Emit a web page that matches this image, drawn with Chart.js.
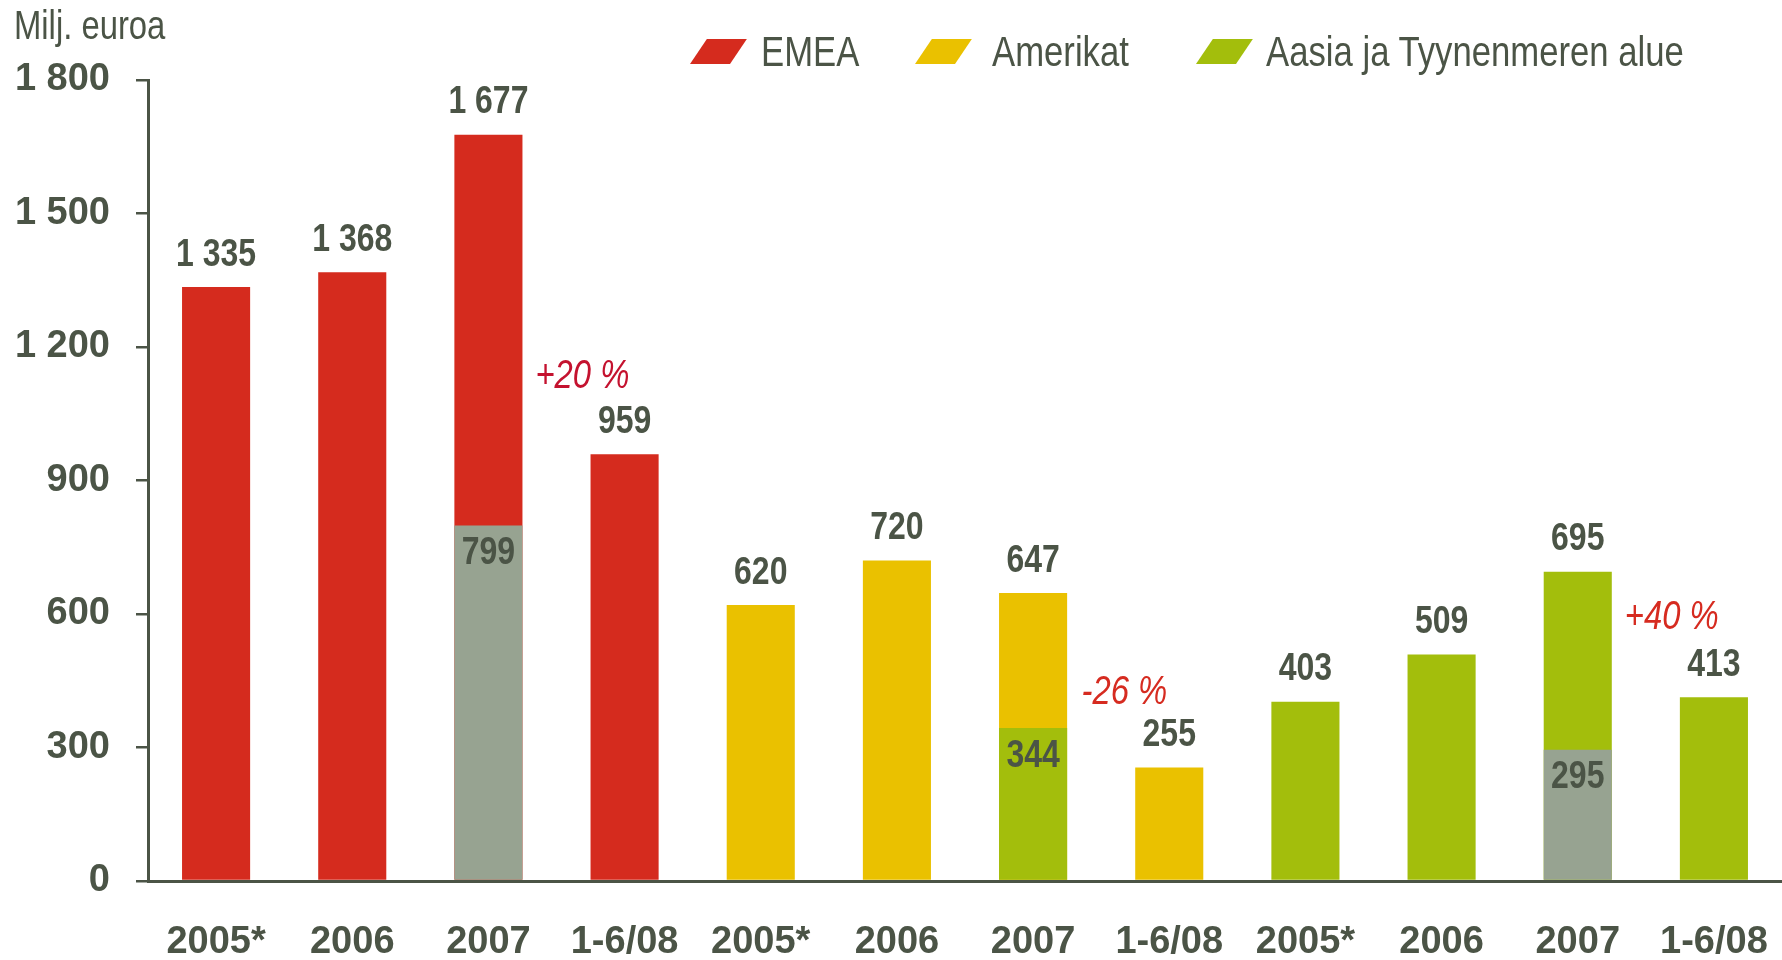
<!DOCTYPE html>
<html>
<head>
<meta charset="utf-8">
<script src="https://cdn.jsdelivr.net/npm/chart.js@4.4.1/dist/chart.umd.min.js"></script>
<style>
  html, body { margin: 0; padding: 0; background: #fff; }
  #wrap { position: relative; width: 1782px; height: 960px; overflow: hidden; }
  #chart { position: absolute; left: 0; top: 0; }
  .ytitle { position: absolute; left: 14px; top: 5px; font: 40px "Liberation Sans", Arial, sans-serif; line-height: 1; color: #4B5446; white-space: nowrap; transform: scaleX(0.82); transform-origin: 0 0; }
  .legend .sw { position: absolute; top: 39px; width: 40px; height: 25px; transform: skewX(-34deg); transform-origin: 0 100%; }
  .legend .lt { position: absolute; top: 31px; font: 42px "Liberation Sans", Arial, sans-serif; line-height: 1; color: #4B5446; white-space: nowrap; transform: scaleX(0.826); transform-origin: 0 0; }
</style>
</head>
<body>
<div id="wrap">
  <canvas id="chart" width="1782" height="960"></canvas>
  <div class="ytitle">Milj. euroa</div>
  <div class="legend" id="legend"></div>
</div>
<script>
const categories = ['2005*', '2006', '2007', '1-6/08', '2005*', '2006', '2007', '1-6/08', '2005*', '2006', '2007', '1-6/08'];
const totals = [1335, 1368, 1677, 959, 620, 720, 647, 255, 403, 509, 695, 413];
const comparable = [null, null, 799, null, null, null, 344, null, null, null, 295, null];
const regions = ['EMEA', 'Amerikat', 'Aasia ja Tyynenmeren alue'];
const yTickLabels = ['0', '300', '600', '900', '1 200', '1 500', '1 800'];
const changeLabels = ['+20 %', '-26 %', '+40 %'];
const changeX = [2.69, 6.67, 10.69];
const changeY = [1132, 422, 591];

const RED = '#D52B1E', YELLOW = '#EAC100', GREEN = '#A3BE0C', GRAY = '#97A391';
const TEXT = '#4B5446';
const regionColors = [RED, YELLOW, GREEN];
const baseColors = [GRAY, GRAY, GRAY, GRAY, GREEN, GREEN, GREEN, GREEN, GRAY, GRAY, GRAY, GRAY];
const changeColors = ['#C4122F', '#D62B20', '#D62B20'];
// legend placement (px): swatch left edge, text left edge
const legendSwatchX = [690, 915, 1196];
const legendTextX = [761, 992, 1266];

const FONT = '"Liberation Sans", Arial, sans-serif';
const SQUEEZE = 0.82;

function fmtNum(v) {
  if (v >= 1000) return Math.floor(v / 1000) + ' ' + String(v % 1000).padStart(3, '0');
  return String(v);
}

// legend in html
const legendEl = document.getElementById('legend');
regions.forEach((r, i) => {
  const sw = document.createElement('div');
  sw.className = 'sw';
  sw.style.left = legendSwatchX[i] + 'px';
  sw.style.background = regionColors[i];
  legendEl.appendChild(sw);
  const t = document.createElement('div');
  t.className = 'lt';
  t.style.left = legendTextX[i] + 'px';
  t.textContent = r;
  legendEl.appendChild(t);
});

function narrowText(ctx, text, x, y) {
  ctx.save();
  ctx.translate(x, y);
  ctx.scale(SQUEEZE, 1);
  ctx.fillText(text, 0, 0);
  ctx.restore();
}

const labelPlugin = {
  id: 'barLabels',
  afterDatasetsDraw(chart) {
    const ctx = chart.ctx;
    const totMeta = chart.getDatasetMeta(1);
    const baseMeta = chart.getDatasetMeta(0);
    ctx.save();
    ctx.textAlign = 'center';
    ctx.textBaseline = 'middle';
    ctx.fillStyle = TEXT;
    ctx.font = 'bold 39px ' + FONT;
    totMeta.data.forEach((bar, i) => {
      narrowText(ctx, fmtNum(totals[i]), bar.x, bar.y - 32);
    });
    baseMeta.data.forEach((bar, i) => {
      if (comparable[i] == null) return;
      narrowText(ctx, fmtNum(comparable[i]), bar.x, bar.y + 28);
    });
    ctx.font = 'italic 40px ' + FONT;
    changeLabels.forEach((t, i) => {
      ctx.fillStyle = changeColors[i];
      narrowText(ctx, t, chart.scales.x.getPixelForValue(changeX[i]), chart.scales.y.getPixelForValue(changeY[i]));
    });
    ctx.restore();
  }
};

new Chart(document.getElementById('chart'), {
  type: 'bar',
  data: {
    labels: categories,
    datasets: [
      {
        label: 'vertailukelpoinen',
        data: comparable,
        backgroundColor: baseColors,
        order: 0
      },
      {
        label: 'yhteensä',
        data: totals,
        backgroundColor: categories.map((c, i) => regionColors[Math.floor(i / 4)]),
        order: 1
      }
    ]
  },
  options: {
    responsive: false,
    animation: false,
    devicePixelRatio: 1,
    layout: { padding: { top: 80, left: 0, right: 0, bottom: 0 } },
    datasets: { bar: { grouped: false, barPercentage: 0.5, categoryPercentage: 1.0, borderWidth: 0 } },
    plugins: { legend: { display: false }, tooltip: { enabled: false } },
    scales: {
      x: {
        grid: { display: false, drawTicks: false },
        border: { display: true, color: TEXT, width: 3 },
        ticks: { color: TEXT, font: { family: FONT, size: 38, weight: 'bold' }, padding: 39, maxRotation: 0, autoSkip: false },
        afterFit(s) { s.height = 79; s.paddingLeft = 0; s.paddingRight = 0; }
      },
      y: {
        min: 0,
        max: 1800,
        grid: { display: true, drawOnChartArea: false, drawTicks: true, tickLength: 12, color: TEXT, lineWidth: 2.5 },
        border: { display: true, color: TEXT, width: 3 },
        ticks: {
          stepSize: 300,
          color: TEXT,
          padding: 26,
          font: { family: FONT, size: 38, weight: 'bold' },
          callback: (v, i) => yTickLabels[i]
        },
        afterFit(s) { s.width = 148; s.paddingTop = 0; s.paddingBottom = 0; }
      }
    }
  },
  plugins: [labelPlugin]
});
</script>
</body>
</html>
